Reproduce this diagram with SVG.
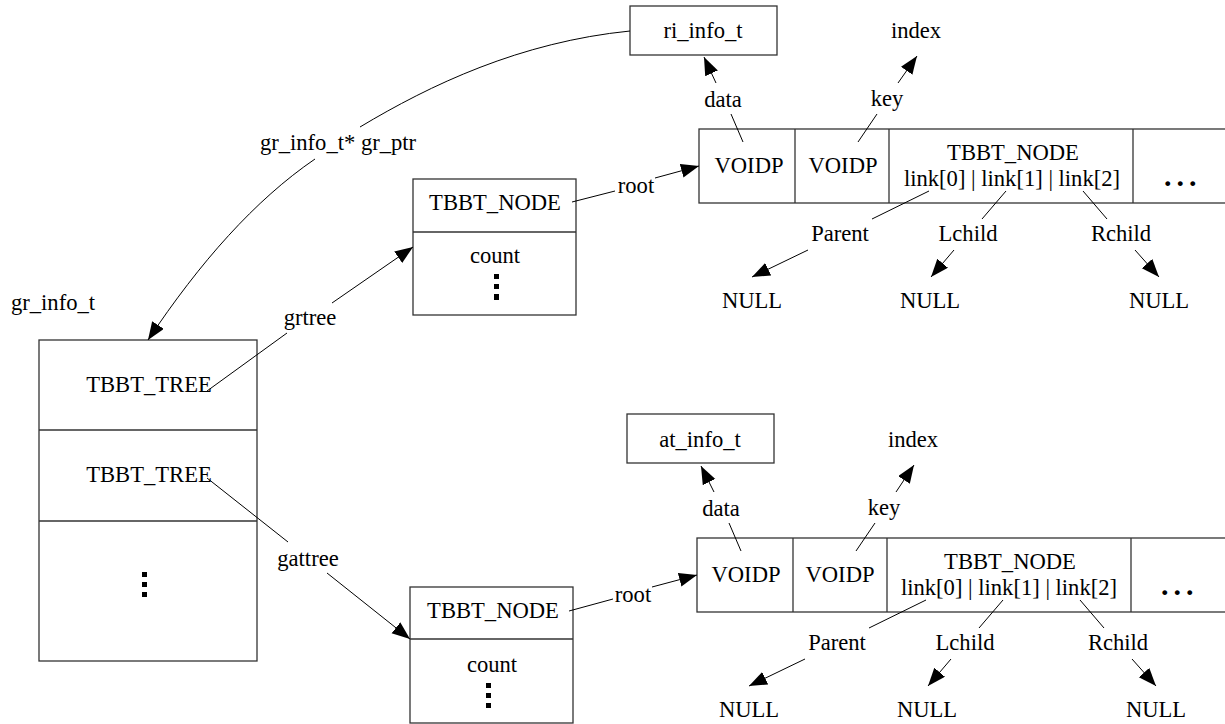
<svg xmlns="http://www.w3.org/2000/svg" width="1225" height="724" viewBox="0 0 1225 724" font-family="'Liberation Serif', 'DejaVu Serif', serif">
<defs>
<style>
text{font-family:'Liberation Serif','DejaVu Serif',serif;font-size:22.6px;fill:#000;text-anchor:middle}
.box{fill:#fff;stroke:#333;stroke-width:1.3}
.div{stroke:#333;stroke-width:1.3;fill:none}
.ln{stroke:#000;stroke-width:1;fill:none}
.ar{marker-end:url(#arr)}
text.dots{font-weight:bold;font-size:30px;letter-spacing:5px;text-anchor:start}
</style>
<marker id="arr" markerUnits="userSpaceOnUse" markerWidth="20" markerHeight="16" refX="18" refY="7" orient="auto">
<path d="M0,0 L18,7 L0,14 z" fill="#000"/>
</marker>
</defs>
<rect width="1225" height="724" fill="#fff"/>

<g id="gr_info_t">
<text x="53" y="310">gr_info_t</text>
<rect class="box" x="39" y="340" width="218" height="321"/>
<line class="div" x1="39" y1="430" x2="257" y2="430"/>
<line class="div" x1="39" y1="521" x2="257" y2="521"/>
<text x="149" y="392">TBBT_TREE</text>
<text x="149" y="482">TBBT_TREE</text>
<rect x="142" y="572" width="5" height="5"/>
<rect x="142" y="582" width="5" height="5"/>
<rect x="142" y="592" width="5" height="5"/>
</g>

<g id="ri_info_t">
<rect class="box" x="630" y="6" width="147" height="49"/>
<text x="703" y="38">ri_info_t</text>
</g>
<g id="index_top"><text x="916" y="38">index</text></g>

<g id="tbbt_node_top">
<rect class="box" x="413" y="179" width="163" height="136"/>
<line class="div" x1="413" y1="232" x2="576" y2="232"/>
<text x="495" y="210">TBBT_NODE</text>
<text x="495" y="263">count</text>
<rect x="494" y="274" width="5" height="5"/>
<rect x="494" y="284" width="5" height="5"/>
<rect x="494" y="294" width="5" height="6"/>
</g>

<g id="record_top">
<rect class="box" x="699" y="129" width="540" height="74"/>
<line class="div" x1="795" y1="129" x2="795" y2="203"/>
<line class="div" x1="889" y1="129" x2="889" y2="203"/>
<line class="div" x1="1133" y1="129" x2="1133" y2="203"/>
<text x="749" y="173">VOIDP</text>
<text x="843" y="173">VOIDP</text>
<text x="1013" y="160">TBBT_NODE</text>
<text x="1012" y="186">link[0] | link[1] | link[2]</text>
<text class="dots" x="1164" y="186">...</text>
</g>

<g id="null_top">
<text x="752" y="308">NULL</text>
<text x="930" y="308">NULL</text>
<text x="1159" y="308">NULL</text>
</g>

<g id="at_info_t">
<rect class="box" x="627" y="414" width="147" height="49"/>
<text x="700" y="447">at_info_t</text>
</g>
<g id="index_bottom"><text x="913" y="447">index</text></g>

<g id="tbbt_node_bottom">
<rect class="box" x="410" y="587" width="163" height="136"/>
<line class="div" x1="410" y1="639" x2="573" y2="639"/>
<text x="493" y="618">TBBT_NODE</text>
<text x="492" y="672">count</text>
<rect x="486" y="683" width="5" height="5"/>
<rect x="486" y="693" width="5" height="5"/>
<rect x="486" y="703" width="5" height="5"/>
</g>

<g id="record_bottom">
<rect class="box" x="697" y="538" width="540" height="74"/>
<line class="div" x1="793" y1="538" x2="793" y2="612"/>
<line class="div" x1="887" y1="538" x2="887" y2="612"/>
<line class="div" x1="1131" y1="538" x2="1131" y2="612"/>
<text x="746" y="582">VOIDP</text>
<text x="840" y="582">VOIDP</text>
<text x="1010" y="569">TBBT_NODE</text>
<text x="1009" y="595">link[0] | link[1] | link[2]</text>
<text class="dots" x="1161" y="595">...</text>
</g>

<g id="null_bottom">
<text x="749" y="717">NULL</text>
<text x="927" y="717">NULL</text>
<text x="1156" y="717">NULL</text>
</g>

<g id="connectors">
<path class="ln" d="M630,31 C520,42 430,85 360,127"/>
<path class="ln ar" d="M315,159 C255,200 200,262 148,340"/>
<text x="338" y="150">gr_info_t* gr_ptr</text>
<line class="ln" x1="207" y1="391" x2="287" y2="333"/>
<line class="ln ar" x1="332" y1="303" x2="413" y2="247"/>
<text x="310" y="325">grtree</text>
<line class="ln" x1="207" y1="478" x2="288" y2="542"/>
<line class="ln ar" x1="327" y1="573" x2="410" y2="639"/>
<text x="308" y="566">gattree</text>

<line class="ln" x1="572" y1="202" x2="615" y2="191"/>
<line class="ln ar" x1="655" y1="178" x2="699" y2="166"/>
<text x="636" y="193">root</text>
<line class="ln" x1="743" y1="142" x2="731" y2="114"/>
<line class="ln ar" x1="716" y1="83" x2="704" y2="57"/>
<text x="723" y="107">data</text>
<line class="ln" x1="858" y1="142" x2="877" y2="114"/>
<line class="ln ar" x1="898" y1="83" x2="917" y2="56"/>
<text x="887" y="106">key</text>
<line class="ln" x1="929" y1="191" x2="872" y2="219"/>
<line class="ln ar" x1="808" y1="250" x2="752" y2="277"/>
<text x="840" y="241">Parent</text>
<line class="ln" x1="1006" y1="191" x2="982" y2="219"/>
<line class="ln ar" x1="954" y1="250" x2="931" y2="277"/>
<text x="968" y="241">Lchild</text>
<line class="ln" x1="1083" y1="191" x2="1107" y2="219"/>
<line class="ln ar" x1="1135" y1="250" x2="1159" y2="277"/>
<text x="1121" y="241">Rchild</text>

<line class="ln" x1="569" y1="611" x2="613" y2="599"/>
<line class="ln ar" x1="652" y1="587" x2="697" y2="575"/>
<text x="633" y="602">root</text>
<line class="ln" x1="741" y1="551" x2="729" y2="523"/>
<line class="ln ar" x1="714" y1="492" x2="701" y2="466"/>
<text x="721" y="516">data</text>
<line class="ln" x1="856" y1="551" x2="875" y2="523"/>
<line class="ln ar" x1="896" y1="492" x2="914" y2="465"/>
<text x="884" y="515">key</text>
<line class="ln" x1="926" y1="600" x2="869" y2="628"/>
<line class="ln ar" x1="805" y1="659" x2="749" y2="686"/>
<text x="837" y="650">Parent</text>
<line class="ln" x1="1003" y1="600" x2="979" y2="628"/>
<line class="ln ar" x1="951" y1="659" x2="928" y2="686"/>
<text x="965" y="650">Lchild</text>
<line class="ln" x1="1080" y1="600" x2="1104" y2="628"/>
<line class="ln ar" x1="1132" y1="659" x2="1156" y2="686"/>
<text x="1118" y="650">Rchild</text>
</g>
</svg>
